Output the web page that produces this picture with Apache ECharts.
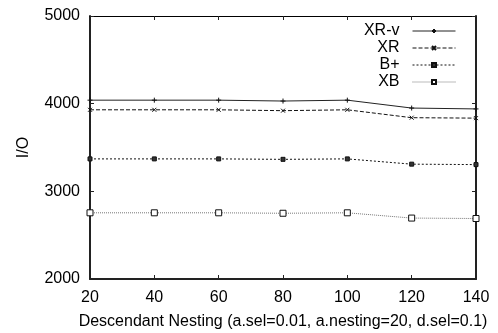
<!DOCTYPE html>
<html><head><meta charset="utf-8">
<script src="https://cdn.jsdelivr.net/npm/echarts@6/dist/echarts.min.js"></script>
<style>html,body{margin:0;padding:0;background:#fff}#c{width:498px;height:333px}</style>
</head><body><div id="c"></div>
<script>
const nesting = [20, 40, 60, 80, 100, 120, 140];
const xrv = [4040, 4040, 4040, 4030, 4040, 3950, 3940];
const xr  = [3930, 3930, 3930, 3920, 3930, 3840, 3835];
const bplus = [3370, 3370, 3370, 3365, 3370, 3310, 3305];
const xb  = [2755, 2755, 2755, 2750, 2755, 2695, 2690];
const seriesNames = ['XR-v', 'XR', 'B+', 'XB'];
const yTicks = [2000, 3000, 4000, 5000];

const plus = 'path://M5,0L5,10M0,5L10,5';
const cross = 'path://M0,0L10,10M10,0L0,10';
const star = 'path://M0,0L10,0L10,10L0,10Z';
const font = 'Liberation Sans, Arial, sans-serif';

function pairs(v){ return nesting.map((x,i)=>[x,v[i]]); }

const chart = echarts.init(document.getElementById('c'), null, {renderer:'canvas'});
const mk = (name, data, lt, col, sym, ss, symStyle) => ({
  name, type:'line', data: pairs(data), xAxisIndex:0, yAxisIndex:0,
  symbol: sym, symbolSize: ss, showAllSymbol:true,
  lineStyle:{color:col, width:1, type: lt},
  itemStyle: symStyle,
  emphasis:{disabled:true}, animation:false
});
chart.setOption({
  animation:false,
  textStyle:{fontFamily:font},
  grid:{left:90, right:22, top:16, bottom:54, containLabel:false, outerBoundsMode:'none'},
  legend:{
    orient:'vertical', right:37, top:18, align:'right',
    itemWidth:43, itemHeight:5, itemGap:1,
    lineStyle:{width:1},
    textStyle:{fontSize:16, color:'#000', fontFamily:font, padding:[0,8,0,0]},
    data: seriesNames
  },
  xAxis:[{
    type:'value', min:20, max:140, interval:20, position:'bottom',
    name:'Descendant Nesting (a.sel=0.01, a.nesting=20, d.sel=0.1)',
    nameLocation:'middle', nameGap:35,
    nameTextStyle:{fontSize:16, color:'#000', fontFamily:font},
    axisLine:{lineStyle:{color:'#222', width:2}},
    axisTick:{inside:true, length:4, lineStyle:{color:'#222'}},
    axisLabel:{fontSize:16, color:'#000', margin:11, fontFamily:font},
    splitLine:{show:false}
  },{
    type:'value', min:20, max:140, interval:20, position:'top',
    axisLine:{show:true, lineStyle:{color:'#000', width:1}},
    axisTick:{inside:true, length:4, lineStyle:{color:'#222'}},
    axisLabel:{show:false}, splitLine:{show:false}
  }],
  yAxis:[{
    type:'value', min:2000, max:5000, interval:1000, position:'left',
    name:'I/O', nameLocation:'middle', nameGap:58, nameRotate:90,
    nameTextStyle:{fontSize:16, color:'#000', fontFamily:font},
    axisLine:{show:true, lineStyle:{color:'#222', width:2}},
    axisTick:{show:true, inside:true, length:4, lineStyle:{color:'#222'}},
    axisLabel:{fontSize:16, color:'#000', margin:10, fontFamily:font,
      formatter: v => yTicks.includes(v) ? String(v) : ''},
    splitLine:{show:false}
  },{
    type:'value', min:2000, max:5000, interval:1000, position:'right',
    axisLine:{show:true, lineStyle:{color:'#222', width:2}},
    axisTick:{show:true, inside:true, length:4, lineStyle:{color:'#222'}},
    axisLabel:{show:false}, splitLine:{show:false}
  }],
  series:[
    mk('XR-v', xrv, 'solid', '#222', plus, 5, {color:'#111', borderColor:'#111', borderWidth:1}),
    mk('XR', xr, [4,2], '#111', cross, 4, {color:'#111', borderColor:'#111', borderWidth:1}),
    mk('B+', bplus, [2,2], '#111', star, 4, {color:'#333', borderColor:'#111', borderWidth:1}),
    mk('XB', xb, [1,1], '#777', 'rect', 6, {color:'#fff', borderColor:'#111', borderWidth:1})
  ]
});
</script></body></html>
